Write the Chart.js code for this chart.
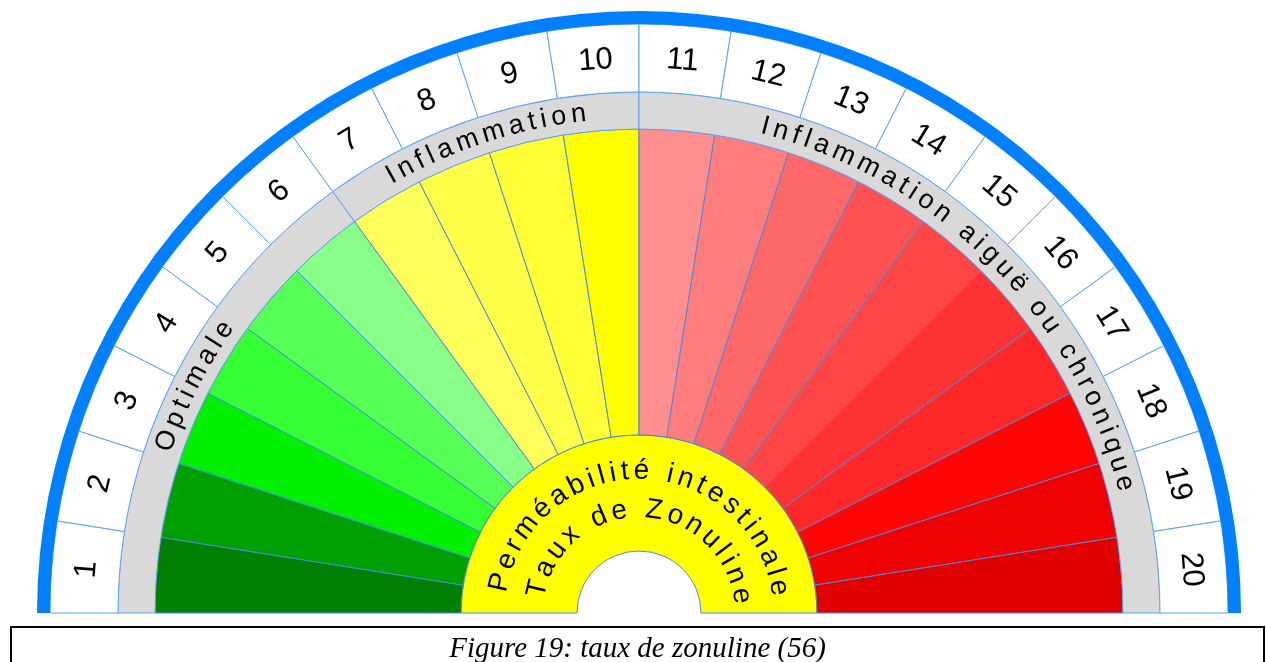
<!DOCTYPE html>
<html>
<head>
<meta charset="utf-8">
<script src="https://cdn.jsdelivr.net/npm/chart.js@4"></script>
<style>
  body { margin: 0; background: #fff; }
  #wrap { position: relative; width: 1266px; height: 662px; overflow: hidden; }
  #gauge { position: absolute; left: 0; top: 0; }
  #caption {
    position: absolute; left: 10px; top: 626px; width: 1251px; height: 60px;
    border: 2px solid #000; text-align: center;
    font: italic 29px "Liberation Serif", "Times New Roman", serif; line-height: 38px;
  }
</style>
</head>
<body>
<div id="wrap">
  <canvas id="gauge" width="1266" height="662"></canvas>
  <div id="caption">Figure 19: taux de zonuline (56)</div>
</div>
<script>
// echelle 1..20
const numeros = ['1', '2', '3', '4', '5', '6', '7', '8', '9', '10',
                 '11', '12', '13', '14', '15', '16', '17', '18', '19', '20'];
const segments = [1, 1, 1, 1, 1, 1, 1, 1, 1, 1, 1, 1, 1, 1, 1, 1, 1, 1, 1, 1];
const zones = ['Optimale', 'Inflammation', 'Inflammation aiguë ou chronique'];
const zonesTaille = [6, 4, 10];
const centreTexte = ['Perméabilité intestinale', 'Taux de Zonuline'];

const couleurs = [
    '#008000', '#00A000', '#00F000', '#33FF33', '#55FF55',
    '#88FF88', '#FFFF5C', '#FFFF48', '#FFFF35', '#FFFF00',
    '#FF8E8E', '#FF7D7D', '#FF6868', '#FF5252', '#FF4545',
    '#FF3333', '#FF2828', '#FF0505', '#F00000', '#E00000'
];

function texteCourbe(ctx, texte, x, y, r, milieu, espace) {
    let lettres = Array.from(texte);
    let largeurs = lettres.map(c => ctx.measureText(c).width);
    let total = largeurs.reduce((s, w) => s + w, 0) + espace * (lettres.length - 1);
    let a = milieu - total / 2 / r;
    for (let i = 0; i < lettres.length; i++) {
        let ca = a + largeurs[i] / 2 / r;
        ctx.save();
        ctx.translate(x + r * Math.cos(ca), y + r * Math.sin(ca));
        ctx.rotate(ca + Math.PI / 2);
        ctx.fillText(lettres[i], 0, 0);
        ctx.restore();
        a += (largeurs[i] + espace) / r;
    }
}

const textes = {
    id: 'textes',
    afterDatasetsDraw(chart) {
        let ctx = chart.ctx;
        ctx.save();
        ctx.fillStyle = '#000';
        ctx.textAlign = 'center';
        ctx.textBaseline = 'middle';

        // numeros
        ctx.font = '31px "Liberation Sans", Arial, sans-serif';
        chart.getDatasetMeta(1).data.forEach((arc, i) => {
            let p = arc.getProps(['x', 'y', 'startAngle', 'endAngle', 'innerRadius', 'outerRadius']);
            let a = (p.startAngle + p.endAngle) / 2;
            let r = (p.innerRadius + p.outerRadius) / 2 - 1;
            ctx.save();
            ctx.translate(p.x + r * Math.cos(a), p.y + r * Math.sin(a));
            ctx.rotate(a + Math.PI / 2);
            ctx.fillText(numeros[i], 0, 0);
            ctx.restore();
        });

        // zones
        ctx.font = '27px "Liberation Sans", Arial, sans-serif';
        chart.getDatasetMeta(2).data.forEach((arc, i) => {
            let p = arc.getProps(['x', 'y', 'startAngle', 'endAngle', 'innerRadius', 'outerRadius']);
            let a = (p.startAngle + p.endAngle) / 2;
            let r = (p.innerRadius + p.outerRadius) / 2;
            texteCourbe(ctx, zones[i], p.x, p.y, r, a, 5.0);
        });

        // centre jaune
        let c = chart.getDatasetMeta(4).data[0].getProps(['x', 'y', 'startAngle', 'endAngle', 'innerRadius', 'outerRadius']);
        let mid = (c.startAngle + c.endAngle) / 2;
        let h = c.outerRadius - c.innerRadius;
        ctx.font = '28px "Liberation Sans", Arial, sans-serif';
        texteCourbe(ctx, centreTexte[0], c.x, c.y, c.innerRadius + h * 0.69, mid + 0.014, 5.1);
        texteCourbe(ctx, centreTexte[1], c.x, c.y, c.innerRadius + h * 0.36, mid + 0.03, 5.6);
        ctx.restore();
    }
};

let jauge = new Chart(document.getElementById('gauge'), {
    type: 'doughnut',
    data: {
        labels: numeros,
        datasets: [
            { data: [1], backgroundColor: '#0080FF', borderWidth: 0, weight: 13 },
            { data: segments, backgroundColor: '#FFFFFF', borderColor: '#5BA3F5', borderWidth: 1, weight: 68 },
            { data: zonesTaille, backgroundColor: '#D9D9D9', borderColor: '#5BA3F5', borderWidth: 1, weight: 37 },
            { data: segments, backgroundColor: couleurs, borderColor: '#4A88DD', borderWidth: 1, weight: 306 },
            { data: [1], backgroundColor: '#FFFF00', borderColor: '#4A88DD', borderWidth: 1, weight: 116 }
        ]
    },
    options: {
        responsive: false,
        animation: false,
        events: [],
        rotation: -90,
        circumference: 180,
        radius: 602,
        cutout: (62 / 602 * 100) + '%',
        layout: { padding: { left: 37, top: 11, right: 25, bottom: 49 } },
        plugins: {
            legend: { display: false },
            tooltip: { enabled: false }
        }
    },
    plugins: [textes]
});
</script>
</body>
</html>
